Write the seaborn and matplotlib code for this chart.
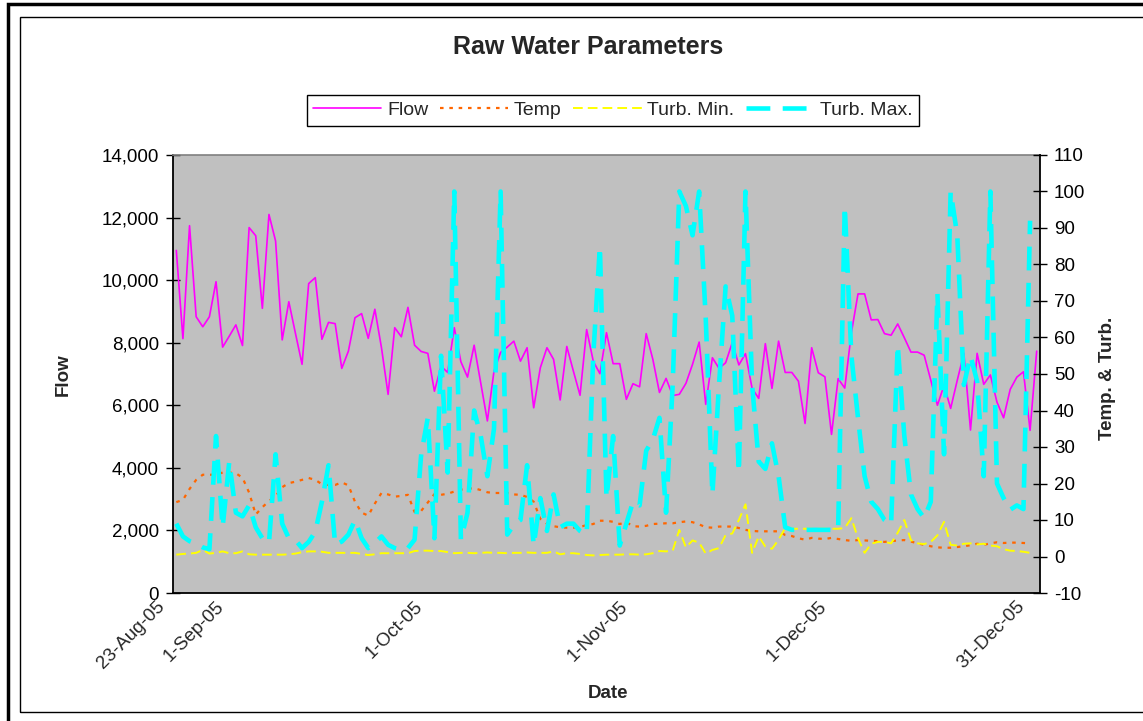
import numpy as np
import pandas as pd
import matplotlib
matplotlib.use("Agg")
import matplotlib.pyplot as plt
import matplotlib.dates as mdates
from matplotlib.ticker import FixedLocator, FixedFormatter, FuncFormatter, MultipleLocator
from matplotlib.patches import Rectangle
import matplotlib.transforms as mtransforms
import seaborn as sns

# ---------------- data ----------------
dates = pd.date_range("2005-08-23", "2005-12-31", freq="D")

flow = [10950, 8130, 11740, 8830, 8510, 8830, 9950, 7860, 8210, 8570,
        7910, 11680, 11420, 9100, 12100, 11250, 8090, 9310, 8300, 7310,
        9890, 10080, 8110, 8650, 8610, 7180, 7730, 8800, 8930, 8140,
        9070, 7840, 6350, 8480, 8190, 9130, 7920, 7720, 7660, 6450,
        7250, 7050, 8480, 7390, 6900, 7920, 6710, 5500, 7090, 7690,
        7860, 8050, 7410, 7840, 5920, 7200, 7840, 7470, 6170, 7880,
        7090, 6320, 8420, 7410, 7010, 8320, 7330, 7330, 6190, 6690,
        6590, 8290, 7470, 6410, 6860, 6310, 6350, 6700, 7310, 8020,
        6030, 7520, 7180, 7360, 8000, 7290, 7650, 6540, 6220, 7970,
        6540, 8050, 7050, 7050, 6770, 5420, 7840, 7040, 6910, 5070,
        6850, 6550, 8320, 9560, 9560, 8730, 8740, 8290, 8240, 8600,
        8160, 7700, 7700, 7600, 6800, 6000, 6640, 5900, 6800, 7660,
        5210, 7660, 6670, 6970, 6100, 5600, 6510, 6900, 7070, 5200,
        7730]

temp = [14.9, 15.5, 18.5, 21.0, 22.4, 22.4, 22.4, 23.0, 23.0, 22.8,
        21.6, 17.5, 11.5, 13.5, 15.2, 16.5, 19.0, 20.1, 20.5, 21.0,
        21.5, 21.0, 19.8, 19.6, 19.6, 20.3, 19.5, 15.0, 12.0, 11.2,
        14.5, 17.4, 17.0, 16.4, 16.6, 16.9, 12.2, 12.5, 14.8, 17.1,
        16.9, 17.2, 17.8, 18.3, 18.6, 18.7, 18.2, 17.6, 17.4, 17.4,
        17.4, 17.0, 16.9, 16.3, 15.0, 10.3, 9.0, 8.3, 8.0, 7.9,
        7.9, 8.1, 8.6, 8.9, 9.8, 9.8, 9.5, 8.9, 9.4, 8.3,
        8.2, 8.4, 8.9, 9.0, 9.1, 9.1, 9.4, 9.6, 9.4, 8.8,
        8.0, 7.9, 8.2, 8.2, 8.2, 7.8, 7.3, 7.0, 6.9, 6.9,
        6.9, 6.9, 5.9, 5.6, 5.0, 4.6, 5.1, 4.9, 4.8, 5.1,
        4.8, 4.5, 4.3, 4.5, 4.4, 4.3, 4.2, 4.0, 4.2, 4.4,
        4.5, 4.1, 3.6, 3.2, 2.8, 2.5, 2.4, 2.4, 2.6, 2.8,
        3.1, 3.5, 3.2, 3.6, 3.9, 3.7, 3.8, 3.8, 3.7, 3.6,
        np.nan]

turb_min = [0.5, 0.7, 0.8, 1.0, 1.8, 0.8, 1.0, 1.4, 0.9, 0.9,
            1.4, 0.6, 0.5, 0.5, 0.5, 0.5, 0.5, 0.6, 0.8, 1.2,
            1.4, 1.4, 1.3, 1.0, 1.0, 1.0, 1.0, 1.0, 0.7, 0.4,
            0.6, 0.9, 0.9, 0.9, 0.9, 0.9, 1.5, 1.6, 1.6, 1.5,
            1.5, 1.2, 0.9, 1.0, 1.0, 0.9, 1.0, 1.1, 1.0, 1.0,
            0.9, 1.0, 1.0, 1.1, 1.0, 1.0, 1.0, 1.4, 0.6, 0.9,
            0.9, 0.7, 0.4, 0.3, 0.4, 0.5, 0.5, 0.5, 0.6, 0.6,
            0.5, 0.6, 0.9, 1.5, 1.4, 1.6, 7.3, 2.5, 4.4, 3.8,
            0.8, 1.8, 2.3, 5.9, 6.3, 10.0, 14.3, 1.0, 5.5, 2.7,
            2.1, 4.6, 7.8, 7.6, 7.6, 7.6, 7.6, 7.6, 7.6, 7.6,
            7.6, 7.8, 10.5, 5.0, 1.0, 3.5, 4.0, 4.0, 3.6, 6.5,
            10.0, 4.5, 3.6, 3.4, 4.0, 5.8, 9.5, 3.2, 3.0, 3.5,
            3.6, 3.3, 3.5, 3.0, 2.8, 2.0, 1.6, 1.5, 1.3, 1.0,
            np.nan]

turb_max = [9.0, 5.5, 4.2, 3.5, 2.5, 2.0, 33.0, 8.0, 26.0, 12.0,
            11.0, 14.0, 8.0, 5.0, 3.7, 28.0, 9.0, 5.0, 4.5, 2.3,
            4.0, 6.8, 15.0, 25.0, 3.2, 4.1, 6.0, 10.0, 5.0, 2.3,
            3.7, 5.5, 3.2, 2.3, 1.8, 2.3, 4.6, 28.0, 38.0, 5.0,
            55.0, 23.0, 100.0, 4.6, 12.0, 40.0, 33.0, 22.0, 35.0, 100.0,
            6.0, 8.7, 10.0, 25.0, 3.0, 16.0, 7.0, 17.0, 8.0, 9.0,
            9.0, 7.0, 6.0, 55.0, 85.0, 16.0, 33.0, 3.0, 9.0, 15.0,
            14.0, 29.0, 32.0, 38.0, 12.0, 47.0, 100.0, 96.0, 88.0, 100.0,
            65.0, 17.0, 47.0, 74.0, 66.0, 23.0, 100.0, 47.0, 26.0, 24.0,
            31.0, 22.0, 8.0, 7.3, 7.3, 7.3, 7.3, 7.3, 7.3, 7.3,
            7.3, 96.0, 55.0, 38.0, 22.0, 15.0, 13.0, 10.0, 8.7, 58.0,
            33.0, 17.0, 13.0, 10.5, 15.0, 72.0, 28.0, 100.0, 88.0, 47.0,
            55.0, 48.0, 22.0, 100.0, 20.0, 16.0, 12.8, 14.0, 13.0, 92.0,
            np.nan]

label_dates = ["2005-08-23", "2005-09-01", "2005-10-01", "2005-11-01",
               "2005-12-01", "2005-12-31"]
label_texts = ["23-Aug-05", "1-Sep-05", "1-Oct-05", "1-Nov-05",
               "1-Dec-05", "31-Dec-05"]

series_names = ["Flow", "Temp", "Turb. Min.", "Turb. Max."]

df = pd.DataFrame({"Date": dates, "Flow": flow, "Temp": temp,
                   "TurbMin": turb_min, "TurbMax": turb_max})

# ---------------- style ----------------
sns.set_style("white")
plt.rcParams["font.family"] = ["Liberation Sans", "DejaVu Sans"]
plt.rcParams["axes.unicode_minus"] = False

W, H = 1143, 721
fig = plt.figure(figsize=(W / 100, H / 100), dpi=100)
fig.patch.set_facecolor("white")

L, R, T, B = 173, 1040, 155, 593
ax = fig.add_axes([L / W, 1 - B / H, (R - L) / W, (B - T) / H])
ax.set_facecolor("#C0C0C0")
ax2 = ax.twinx()

c_flow, c_temp, c_min, c_max = "#FF00FF", "#FF6600", "#FFFF00", "#00FFFF"

sns.lineplot(data=df, x="Date", y="Flow", ax=ax, color=c_flow, lw=1.2,
             legend=False, errorbar=None)
sns.lineplot(data=df, x="Date", y="Temp", ax=ax2, color=c_temp, lw=1.6,
             linestyle=(0, (1.6, 2.6)), legend=False, errorbar=None)
sns.lineplot(data=df, x="Date", y="TurbMin", ax=ax2, color=c_min, lw=1.4,
             linestyle=(0, (5.0, 2.6)), legend=False, errorbar=None)
sns.lineplot(data=df, x="Date", y="TurbMax", ax=ax2, color=c_max, lw=3.3,
             linestyle=(0, (5.2, 2.7)), legend=False, errorbar=None)

# ---------------- axes ----------------
dnum = mdates.date2num(dates)
ax.set_xlim(dnum[0] - 0.5, dnum[-1] + 0.5)
ax.set_ylim(0, 14000)
ax2.set_ylim(-10, 110)

ax.yaxis.set_major_locator(MultipleLocator(2000))
ax.yaxis.set_major_formatter(FuncFormatter(lambda v, p: f"{int(v):,}"))
ax2.yaxis.set_major_locator(MultipleLocator(10))

ax.xaxis.set_major_locator(FixedLocator(mdates.date2num(pd.to_datetime(label_dates))))
ax.xaxis.set_major_formatter(FixedFormatter(label_texts))
ax.xaxis.set_minor_locator(FixedLocator(np.append(dnum - 0.5, dnum[-1] + 0.5)))

fs = 13.5
ax.tick_params(axis="y", which="major", direction="inout", length=10, width=1,
               labelsize=fs, pad=5, colors="black")
ax2.tick_params(axis="y", which="major", direction="inout", length=10, width=1,
                labelsize=fs, pad=5, colors="black")
ax.tick_params(axis="x", which="major", length=0, labelsize=fs, pad=3.5)
ax.tick_params(axis="x", which="minor", direction="out", length=3.5,
               width=0.8, color="#404040")

for lab in ax.get_xticklabels():
    lab.set_rotation(45)
    lab.set_ha("right")
    lab.set_va("top")
    lab.set_rotation_mode("anchor")
    lab.set_transform(lab.get_transform() +
                      mtransforms.ScaledTranslation(-20 / 100, 0, fig.dpi_scale_trans))

ax.set_xlabel("")
ax.set_ylabel("")
ax2.set_ylabel("")

for s in ["left", "bottom"]:
    ax.spines[s].set_color("black")
    ax.spines[s].set_linewidth(1.3)
ax.spines["top"].set_color("#808080")
ax.spines["top"].set_linewidth(1.2)
ax.spines["right"].set_visible(False)
for s in ["left", "bottom", "top"]:
    ax2.spines[s].set_visible(False)
ax2.spines["right"].set_color("black")
ax2.spines["right"].set_linewidth(1.3)

# ---------------- texts ----------------
fig.text(588 / W, 1 - 47 / H, "Raw Water Parameters", ha="center", va="center",
         fontsize=18, fontweight="bold")
fig.text(63 / W, 1 - 375 / H, "Flow", rotation=90, ha="center", va="center",
         fontsize=13.5, fontweight="bold")
fig.text(1108 / W, 1 - 378 / H, "Temp. & Turb.", rotation=90, ha="center",
         va="center", fontsize=13.5, fontweight="bold")
fig.text(608 / W, 1 - 693 / H, "Date", ha="center", va="center",
         fontsize=13.5, fontweight="bold")

# ---------------- legend ----------------
handles = [ax.lines[0]] + list(ax2.lines[:3])
leg = fig.legend(handles, series_names, loc="center", ncol=4,
                 bbox_to_anchor=(613 / W, 1 - 110.5 / H), fontsize=14,
                 frameon=True, fancybox=False, shadow=False, framealpha=1,
                 edgecolor="black", handlelength=3.5, handletextpad=0.3,
                 columnspacing=0.6, borderpad=0.35)
leg.get_frame().set_linewidth(1.0)

# ---------------- chart borders ----------------
fig.add_artist(Rectangle((7.5 / W, -0.05), 1.1, 1 - 4.5 / H + 0.05,
                         transform=fig.transFigure, fill=False,
                         edgecolor="black", lw=2.5))
fig.add_artist(Rectangle((20 / W, 1 - 712 / H), 1.1, (712 - 17) / H,
                         transform=fig.transFigure, fill=False,
                         edgecolor="black", lw=1.0))

fig.savefig("out.png", dpi=100, facecolor="white")
